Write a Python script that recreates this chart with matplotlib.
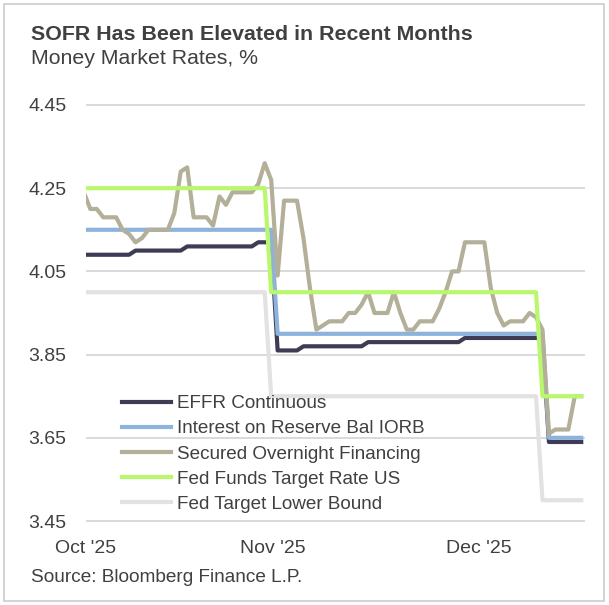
import numpy as np
import pandas as pd
import matplotlib
matplotlib.use("Agg")
import matplotlib.pyplot as plt
import matplotlib.dates as mdates
from matplotlib.patches import Rectangle

plt.rcParams['font.family'] = ['Liberation Sans', 'DejaVu Sans']

######## DATA (daily, weekends carry Friday's value)
dates = pd.date_range('2025-09-30', '2025-12-16', freq='D')

effr = [4.09]*8 + [4.10]*8 + [4.11]*11 + [4.12]*3 + [3.86]*4 + [3.87]*10 + [3.88]*15 + [3.89]*13 + [3.64]*6
iorb = [4.15]*30 + [3.90]*42 + [3.65]*6
fftr = [4.25]*29 + [4.00]*42 + [3.75]*7
lower = [4.00]*29 + [3.75]*42 + [3.50]*7

sofr = [4.24,
        4.20, 4.20, 4.18, 4.18, 4.18, 4.15, 4.14, 4.12, 4.13, 4.15,
        4.15, 4.15, 4.15, 4.19, 4.29, 4.30, 4.18, 4.18, 4.18, 4.16,
        4.23, 4.21, 4.24, 4.24, 4.24, 4.24, 4.26, 4.31, 4.27, 4.04,
        4.22,
        4.22, 4.22, 4.13, 4.01, 3.91, 3.92, 3.93, 3.93, 3.93, 3.95,
        3.95, 3.97, 4.00, 3.95, 3.95, 3.95, 4.00, 3.95, 3.91, 3.91,
        3.93, 3.93, 3.93, 3.96, 4.00, 4.05, 4.05, 4.12, 4.12, 4.12,
        4.12, 4.01, 3.95, 3.92, 3.93, 3.93, 3.93, 3.95, 3.94, 3.91,
        3.66, 3.67, 3.67, 3.67, 3.75, 3.75]

labels = ['EFFR Continuous', 'Interest on Reserve Bal IORB', 'Secured Overnight Financing',
          'Fed Funds Target Rate US', 'Fed Target Lower Bound']
colors = ['#3e3c55', '#8db3dc', '#b4af99', '#b9f86c', '#e2e2e2']
yticks = [4.45, 4.25, 4.05, 3.85, 3.65, 3.45]
month_labels = ["Oct '25", "Nov '25", "Dec '25"]
month_pos = pd.to_datetime(['2025-09-30 08:00', '2025-10-29 05:00', '2025-11-30 05:00'])

txt = '#404040'

######## FIGURE
W, H = 609, 605
fig = plt.figure(figsize=(W/100, H/100), dpi=100)
top, bot = 100.8, 525.2
ax = fig.add_axes([86/W, 1 - bot/H, (585-86)/W, (bot-top)/H])

series = [effr, iorb, sofr, fftr, lower]
for vals, lab, col in zip(series, labels, colors):
    ax.plot(dates, vals, color=col, lw=3, label=lab, solid_joinstyle='round')

ax.set_ylim(3.44, 4.46)
ax.set_xlim(pd.Timestamp('2025-09-30 11:30'), pd.Timestamp('2025-12-16 14:00'))
ax.set_yticks(yticks)
ax.set_yticklabels(['%.2f' % v for v in yticks])
ax.set_xticks(month_pos)
ax.set_xticklabels(month_labels)
ax.tick_params(axis='both', length=0, labelsize=14, colors=txt)
ax.tick_params(axis='y', pad=14)
ax.tick_params(axis='x', pad=10.5)
ax.grid(axis='y', color='#d3d3d3', lw=1.2)
ax.set_axisbelow(True)
for s in ax.spines.values():
    s.set_visible(False)

leg = ax.legend(loc='upper left', bbox_to_anchor=(122/W, 1 - 395/H), bbox_transform=fig.transFigure,
                frameon=False, fontsize=13.6, handlelength=2.6, handletextpad=0.3,
                labelspacing=0.42, borderpad=0, borderaxespad=0)
for t in leg.get_texts():
    t.set_color(txt)

fig.text(31/W, 1 - 34/H, 'SOFR Has Been Elevated in Recent Months', fontsize=15.4, fontweight='bold',
         color=txt, va='center')
fig.text(31/W, 1 - 59/H, 'Money Market Rates, %', fontsize=15.3, color=txt, va='center')
fig.text(31/W, 1 - 577/H, 'Source: Bloomberg Finance L.P.', fontsize=13.7, color=txt, va='center')

fig.patches.append(Rectangle((4/W, 4/H), 600/W, 597/H, transform=fig.transFigure,
                             fill=False, ec='#d4d4d4', lw=1.5))

fig.savefig('out.png', dpi=100)
